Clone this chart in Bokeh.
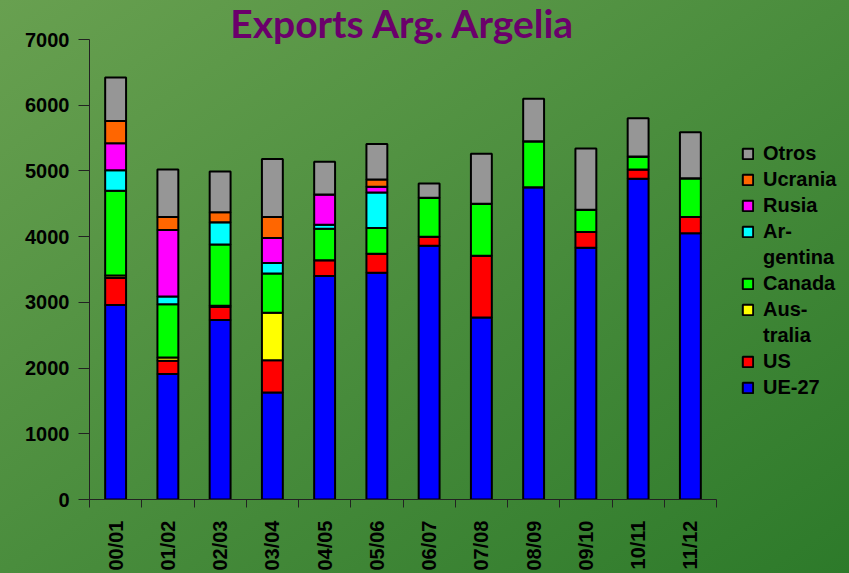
import math
from bokeh.plotting import figure
from bokeh.models import (ColumnDataSource, Range1d, FixedTicker, Legend, LegendItem,
                          Label, GlobalInlineStyleSheet)
from bokeh.embed import file_html
from bokeh.resources import INLINE

# ---- data ----
seasons = ["00/01", "01/02", "02/03", "03/04", "04/05", "05/06",
           "06/07", "07/08", "08/09", "09/10", "10/11", "11/12"]
ue27      = [2960, 1910, 2730, 1630, 3400, 3450, 3860, 2770, 4750, 3830, 4880, 4050]
us        = [410, 200, 200, 490, 240, 290, 140, 940, 0, 240, 140, 250]
australia = [40, 50, 20, 720, 0, 0, 0, 0, 0, 0, 0, 0]
canada    = [1290, 810, 930, 600, 480, 390, 590, 790, 700, 340, 200, 590]
argentina = [310, 120, 340, 160, 60, 540, 0, 0, 0, 0, 0, 0]
rusia     = [410, 1010, 0, 380, 460, 90, 0, 0, 0, 0, 0, 0]
ucrania   = [340, 200, 150, 320, 0, 110, 0, 0, 0, 0, 0, 0]
otros     = [660, 720, 620, 880, 500, 540, 220, 760, 650, 930, 580, 700]

series_keys = ["ue27", "us", "australia", "canada", "argentina", "rusia", "ucrania", "otros"]
# legend labels: (first line, continuation line or None)
series_labels = [("UE-27", None), ("US", None), ("Aus-", "tralia"), ("Canada", None),
                 ("Ar-", "gentina"), ("Rusia", None), ("Ucrania", None), ("Otros", None)]
series_colors = ["#0000ff", "#ff0000", "#ffff00", "#00ff00", "#00ffff", "#ff00ff", "#ff6600", "#969696"]
y_ticks = [0, 1000, 2000, 3000, 4000, 5000, 6000, 7000]
y_max = 7000
title_text = "Exports Arg. Argelia"

n = len(seasons)
centers = [i + 0.5 for i in range(n)]
bounds = list(range(n + 1))

# layout geometry (pixels)
W, H = 849, 573
LEFT, BOTTOM = 89, 74
AXIS_W = 627           # width of the category axis
AXIS_H = 460           # height of the value axis
frame_w = W - LEFT
frame_h = H - BOTTOM
x_end = n * frame_w / AXIS_W
y_end = y_max * frame_h / AXIS_H
px_to_y = y_max / AXIS_H

source = ColumnDataSource(dict(x=centers, ue27=ue27, us=us, australia=australia, canada=canada,
                               argentina=argentina, rusia=rusia, ucrania=ucrania, otros=otros))

p = figure(width=W, height=H, output_backend="svg", toolbar_location=None,
           x_range=Range1d(0, x_end), y_range=Range1d(0, y_end),
           min_border_left=LEFT, min_border_top=0, min_border_bottom=BOTTOM, min_border_right=0)
p.background_fill_color = None
p.border_fill_color = None
p.outline_line_color = None
p.xgrid.visible = False
p.ygrid.visible = False

p.stylesheets = [GlobalInlineStyleSheet(css="""
html, body { background: linear-gradient(to bottom right, #68a050 0%, #4a8d3d 50%, #2d7a2a 100%) fixed; }
""")]

renderers = p.vbar_stack(series_keys, x="x", width=0.4, source=source,
                         color=series_colors, line_color="black", line_width=2)

items = []
for (first, second), r in zip(series_labels, renderers):
    group = [LegendItem(label=first, renderers=[r])]
    if second is not None:
        group.append(LegendItem(label=second, renderers=[]))
    items = group + items
legend = Legend(items=items, location=(652, 100), orientation="vertical",
                background_fill_alpha=0, border_line_alpha=0,
                label_text_font="Liberation Sans", label_text_font_style="bold",
                label_text_font_size="20px", label_text_color="black",
                glyph_width=13, glyph_height=13, label_standoff=9, spacing=3,
                margin=0, padding=0, label_height=20)
p.add_layout(legend)

title = Label(x=n / 2, y=y_end - 22 * px_to_y, text=title_text, text_align="center",
              text_baseline="alphabetic", text_font="Lato", text_font_style="bold",
              text_font_size="39px", text_color="#6b006b")
p.add_layout(title)

# x axis: boundaries as minor ticks, labels at centres
xa = p.xaxis[0]
xa.bounds = (0, n)
xa.ticker = FixedTicker(ticks=centers, minor_ticks=bounds)
xa.major_label_overrides = {c: s for c, s in zip(centers, seasons)}
xa.major_label_orientation = math.pi / 2
xa.major_tick_out = 0
xa.major_tick_in = 0
xa.minor_tick_out = 8
xa.minor_tick_in = 0
xa.major_label_standoff = 13
xa.major_label_text_font = "Liberation Sans"
xa.major_label_text_font_style = "bold"
xa.major_label_text_font_size = "20px"
xa.major_label_text_color = "black"
xa.axis_line_color = "#222222"
xa.minor_tick_line_color = "#222222"

ya = p.yaxis[0]
ya.bounds = (0, y_max)
ya.ticker = FixedTicker(ticks=y_ticks)
ya.major_tick_out = 11
ya.major_tick_in = 0
ya.minor_tick_out = 0
ya.minor_tick_in = 0
ya.major_label_standoff = 9
ya.major_label_text_font = "Liberation Sans"
ya.major_label_text_font_style = "bold"
ya.major_label_text_font_size = "20px"
ya.major_label_text_color = "black"
ya.axis_line_color = "#222222"
ya.major_tick_line_color = "#222222"

open("out.html", "w").write(file_html(p, INLINE))
